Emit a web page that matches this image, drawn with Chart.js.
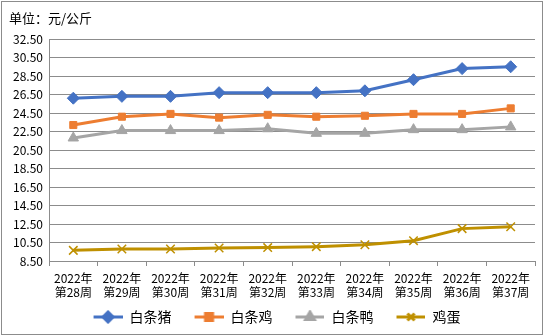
<!DOCTYPE html>
<html>
<head>
<meta charset="utf-8">
<script src="https://cdn.jsdelivr.net/npm/chart.js@4/dist/chart.umd.min.js"></script>
<style>
  html, body { margin: 0; padding: 0; background: #fff; }
  #wrap { width: 544px; height: 336px; }
</style>
</head>
<body>
<div id="wrap"><canvas id="chart" width="544" height="336"></canvas></div>
<script>
// 数据
const weeks = ["第28周", "第29周", "第30周", "第31周", "第32周", "第33周", "第34周", "第35周", "第36周", "第37周"];
const pork    = [26.1, 26.3, 26.3, 26.7, 26.7, 26.7, 26.9, 28.1, 29.3, 29.5];
const chicken = [23.2, 24.1, 24.4, 24.0, 24.3, 24.1, 24.2, 24.4, 24.4, 25.0];
const duck    = [21.8, 22.6, 22.6, 22.6, 22.8, 22.3, 22.3, 22.7, 22.7, 23.0];
const egg     = [9.65, 9.8, 9.8, 9.9, 9.95, 10.05, 10.25, 10.7, 12.0, 12.2];
const seriesNames = ["白条猪", "白条鸡", "白条鸭", "鸡蛋"];

const FONT = "'Noto Sans CJK SC', 'DejaVu Sans', sans-serif";

// legend icon: line + marker (left margin keeps items apart)
function legendIcon(color, style) {
    const c = document.createElement("canvas");
    c.width = 44; c.height = 14;
    const g = c.getContext("2d");
    g.strokeStyle = color; g.fillStyle = color; g.lineWidth = 3;
    g.beginPath(); g.moveTo(15, 7); g.lineTo(44, 7); g.stroke();
    Chart.helpers.drawPoint(g, {pointStyle: style, radius: 5, borderWidth: style === "crossRot" ? 1.5 : 1}, 29.5, 7);
    return c;
}

function series(label, data, color, style, radius) {
    return {
        label: label,
        data: data,
        borderColor: color,
        backgroundColor: color,
        borderWidth: 3,
        pointStyle: style,
        pointRadius: radius,
        pointBorderWidth: style === "crossRot" ? 1.5 : 1,
        pointBorderColor: color,
        pointBackgroundColor: color,
        tension: 0,
    };
}

const frame = {
    id: "frame",
    beforeDraw(chart) {
        const ctx = chart.ctx;
        ctx.save();
        ctx.fillStyle = "#fff";
        ctx.fillRect(0, 0, chart.width, chart.height);
        ctx.strokeStyle = "#8c8c8c";
        ctx.lineWidth = 1;
        ctx.strokeRect(1.5, 1.5, chart.width - 3, chart.height - 3);
        ctx.fillStyle = "#000";
        ctx.font = "13px " + FONT;
        ctx.textBaseline = "middle";
        ctx.fillText("单位：元/公斤", 9, 18);
        ctx.restore();
    }
};

const colors = ["#4472C4", "#ED7D31", "#A5A5A5", "#BF9000"];
const styles = ["rectRot", "rect", "triangle", "crossRot"];

new Chart(document.getElementById("chart"), {
    type: "line",
    data: {
        labels: weeks.map(w => ["2022年", w]),
        datasets: [
            series(seriesNames[0], pork, colors[0], styles[0], 6),
            series(seriesNames[1], chicken, colors[1], styles[1], 5),
            series(seriesNames[2], duck, colors[2], styles[2], 6),
            series(seriesNames[3], egg, colors[3], styles[3], 6),
        ]
    },
    options: {
        responsive: false,
        animation: false,
        layout: { padding: { top: 39, right: 9, left: 4, bottom: 2 } },
        plugins: {
            tooltip: { enabled: false },
            legend: {
                position: "bottom",
                labels: {
                    usePointStyle: true,
                    pointStyleWidth: 44,
                    color: "#000",
                    font: { size: 14, family: FONT },
                    padding: 8,
                    generateLabels(chart) {
                        return chart.data.datasets.map((ds, i) => ({
                            text: ds.label,
                            pointStyle: legendIcon(colors[i], styles[i]),
                            datasetIndex: i,
                            fontColor: "#000",
                            lineWidth: 0,
                        }));
                    }
                }
            }
        },
        scales: {
            x: {
                offset: true,
                afterFit: s => { s.height = 41; },
                grid: { display: true, drawOnChartArea: false, offset: true, tickLength: 5, color: "#8c8c8c" },
                border: { color: "#8c8c8c" },
                ticks: { color: "#000", font: { size: 12, family: FONT }, maxRotation: 0, autoSkip: false, padding: 5 }
            },
            y: {
                min: 8.5,
                max: 32.5,
                afterFit: s => { s.width = 45; },
                grid: { color: "#8c8c8c", tickLength: 0 },
                border: { color: "#8c8c8c" },
                ticks: {
                    stepSize: 2,
                    color: "#000",
                    font: { size: 12, family: FONT },
                    padding: 6,
                    callback: v => v.toFixed(2)
                }
            }
        }
    },
    plugins: [frame]
});
</script>
</body>
</html>
